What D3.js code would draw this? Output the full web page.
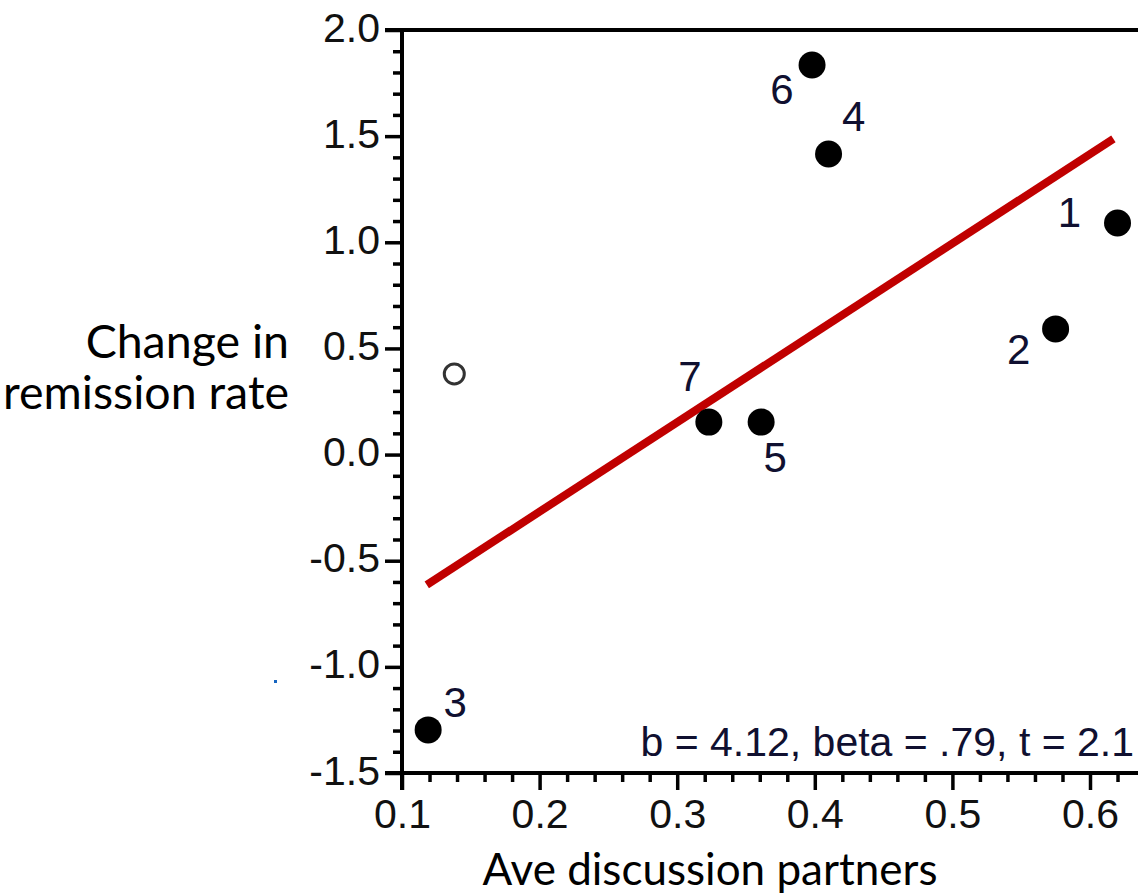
<!DOCTYPE html>
<html>
<head>
<meta charset="utf-8">
<script src="https://cdn.jsdelivr.net/npm/d3@7"></script>
<style>
  html, body { margin: 0; padding: 0; background: #fff; }
  svg { display: block; }
</style>
</head>
<body>
<svg id="chart" width="1138" height="894"></svg>
<script>
// ---------------- data ----------------
const pointIds    = ["1", "2", "3", "4", "5", "6", "7"];
const pointX      = [0.620, 0.575, 0.119, 0.410, 0.361, 0.398, 0.323];
const pointY      = [1.091, 0.592, -1.297, 1.416, 0.153, 1.835, 0.153];
const outlierX    = [0.138];
const outlierY    = [0.380];
const fitLineX    = [0.118, 0.617];
const fitLineY    = [-0.614, 1.487];
const xTickValues = [0.1, 0.2, 0.3, 0.4, 0.5, 0.6];
const xTickLabels = ["0.1", "0.2", "0.3", "0.4", "0.5", "0.6"];
const yTickValues = [-1.5, -1.0, -0.5, 0.0, 0.5, 1.0, 1.5, 2.0];
const yTickLabels = ["-1.5", "-1.0", "-0.5", "0.0", "0.5", "1.0", "1.5", "2.0"];
const xTitle      = "Ave discussion partners";
const yTitleLines = ["Change in", "remission rate"];
const statsText   = "b = 4.12, beta = .79, t = 2.1";

// label placement relative to each dot (px)
const labelOffset = {
  "1": [-48, -11], "2": [-37, 20], "3": [27, -28], "4": [25, -38],
  "5": [14, 35], "6": [-30, 24], "7": [-19, -46]
};

// ---------------- layout ----------------
const svg = d3.select("#chart");
const W = 1138;
const x = d3.scaleLinear().domain([0.1, 0.6]).range([402, 1090]);
const y = d3.scaleLinear().domain([-1.5, 2.0]).range([773, 30]);
const xMax = x.invert(W);

const tickFont = "'Liberation Sans', Arial, sans-serif";
const axisStroke = 4;

// minor ticks
const yMinor = d3.range(-15, 21).map(d => d / 10).filter(v => !yTickValues.some(t => Math.abs(t - v) < 1e-9));
const xMinor = d3.range(5, Math.floor(xMax * 50) + 1).map(d => d / 50).filter(v => !xTickValues.some(t => Math.abs(t - v) < 1e-9));

const g = svg.append("g");

// Y axis minor
g.append("g").attr("transform", `translate(${x(0.1)},0)`)
  .call(d3.axisLeft(y).tickValues(yMinor).tickSize(9).tickFormat(""))
  .call(a => a.select(".domain").remove())
  .call(a => a.selectAll("line").attr("stroke", "#000").attr("stroke-width", 3.5));

// Y axis major
const yAx = g.append("g").attr("transform", `translate(${x(0.1)},0)`)
  .call(d3.axisLeft(y).tickValues(yTickValues).tickSize(17).tickPadding(5)
        .tickFormat((d, i) => yTickLabels[i]))
  .call(a => a.select(".domain").remove());
yAx.selectAll("line").attr("stroke", "#000").attr("stroke-width", 3.5);
yAx.selectAll("text").attr("font-family", tickFont).attr("font-size", 41)
  .attr("fill", "#111").attr("dy", "0.27em");

// X axis minor
g.append("g").attr("transform", `translate(0,${y(-1.5)})`)
  .call(d3.axisBottom(x).tickValues(xMinor).tickSize(9).tickFormat(""))
  .call(a => a.select(".domain").remove())
  .call(a => a.selectAll("line").attr("stroke", "#000").attr("stroke-width", 3.5));

// X axis major
const xAx = g.append("g").attr("transform", `translate(0,${y(-1.5)})`)
  .call(d3.axisBottom(x).tickValues(xTickValues).tickSize(17).tickPadding(9)
        .tickFormat((d, i) => xTickLabels[i]))
  .call(a => a.select(".domain").remove());
xAx.selectAll("line").attr("stroke", "#000").attr("stroke-width", 3.5);
xAx.selectAll("text").attr("font-family", tickFont).attr("font-size", 41)
  .attr("fill", "#111");

// axis lines / frame
g.append("line").attr("x1", x(0.1)).attr("x2", x(0.1))
  .attr("y1", y(2.0) - axisStroke / 2).attr("y2", y(-1.5) + 17)
  .attr("stroke", "#000").attr("stroke-width", axisStroke);
g.append("line").attr("x1", x(0.1) - 17).attr("x2", W)
  .attr("y1", y(-1.5)).attr("y2", y(-1.5))
  .attr("stroke", "#000").attr("stroke-width", axisStroke);
g.append("line").attr("x1", x(0.1) - 17).attr("x2", W)
  .attr("y1", y(2.0)).attr("y2", y(2.0))
  .attr("stroke", "#000").attr("stroke-width", axisStroke);

// regression line
svg.append("path")
  .datum(d3.zip(fitLineX, fitLineY))
  .attr("d", d3.line().x(d => x(d[0])).y(d => y(d[1])))
  .attr("fill", "none").attr("stroke", "#c00000").attr("stroke-width", 8);

// outlier (open circle)
svg.selectAll("circle.open").data(d3.zip(outlierX, outlierY)).join("circle")
  .attr("class", "open")
  .attr("cx", d => x(d[0])).attr("cy", d => y(d[1])).attr("r", 10)
  .attr("fill", "#fff").attr("stroke", "#333").attr("stroke-width", 3);

// points
const pts = pointIds.map((id, i) => ({ id, vx: pointX[i], vy: pointY[i] }));
svg.selectAll("circle.pt").data(pts).join("circle")
  .attr("class", "pt")
  .attr("cx", d => x(d.vx)).attr("cy", d => y(d.vy)).attr("r", 13.5)
  .attr("fill", "#000");

svg.selectAll("text.lbl").data(pts).join("text")
  .attr("class", "lbl")
  .attr("x", d => x(d.vx) + labelOffset[d.id][0])
  .attr("y", d => y(d.vy) + labelOffset[d.id][1])
  .attr("dy", "0.36em")
  .attr("text-anchor", "middle")
  .attr("font-family", tickFont).attr("font-size", 42)
  .attr("fill", "#101030")
  .text(d => d.id);

// stats annotation
svg.append("text")
  .attr("x", 1134).attr("y", 756)
  .attr("text-anchor", "end")
  .attr("font-family", tickFont).attr("font-size", 41)
  .attr("fill", "#101030")
  .text(statsText);

// axis titles
const titleFont = "Lato, 'Open Sans', sans-serif";
function fit(sel, target) {
  sel.attr("font-size", 100);
  const w = sel.node().getComputedTextLength();
  return 100 * target / w;
}
const xt = svg.append("text")
  .attr("x", 710).attr("y", 885).attr("text-anchor", "middle")
  .attr("font-family", titleFont).attr("fill", "#000").text(xTitle);
xt.attr("font-size", fit(xt, 455));

const probe = svg.append("text").attr("font-family", titleFont).text(yTitleLines[1]);
const yfs = fit(probe, 286);
probe.remove();
svg.selectAll("text.ytitle").data(yTitleLines).join("text")
  .attr("class", "ytitle")
  .attr("x", 289).attr("y", (d, i) => 358 + i * 51)
  .attr("text-anchor", "end")
  .attr("font-family", titleFont).attr("font-size", yfs).attr("fill", "#000")
  .text(d => d);

// small stray mark seen in the source image
svg.append("rect").attr("x", 274).attr("y", 680).attr("width", 3).attr("height", 3).attr("fill", "#1565c0");
</script>
</body>
</html>
